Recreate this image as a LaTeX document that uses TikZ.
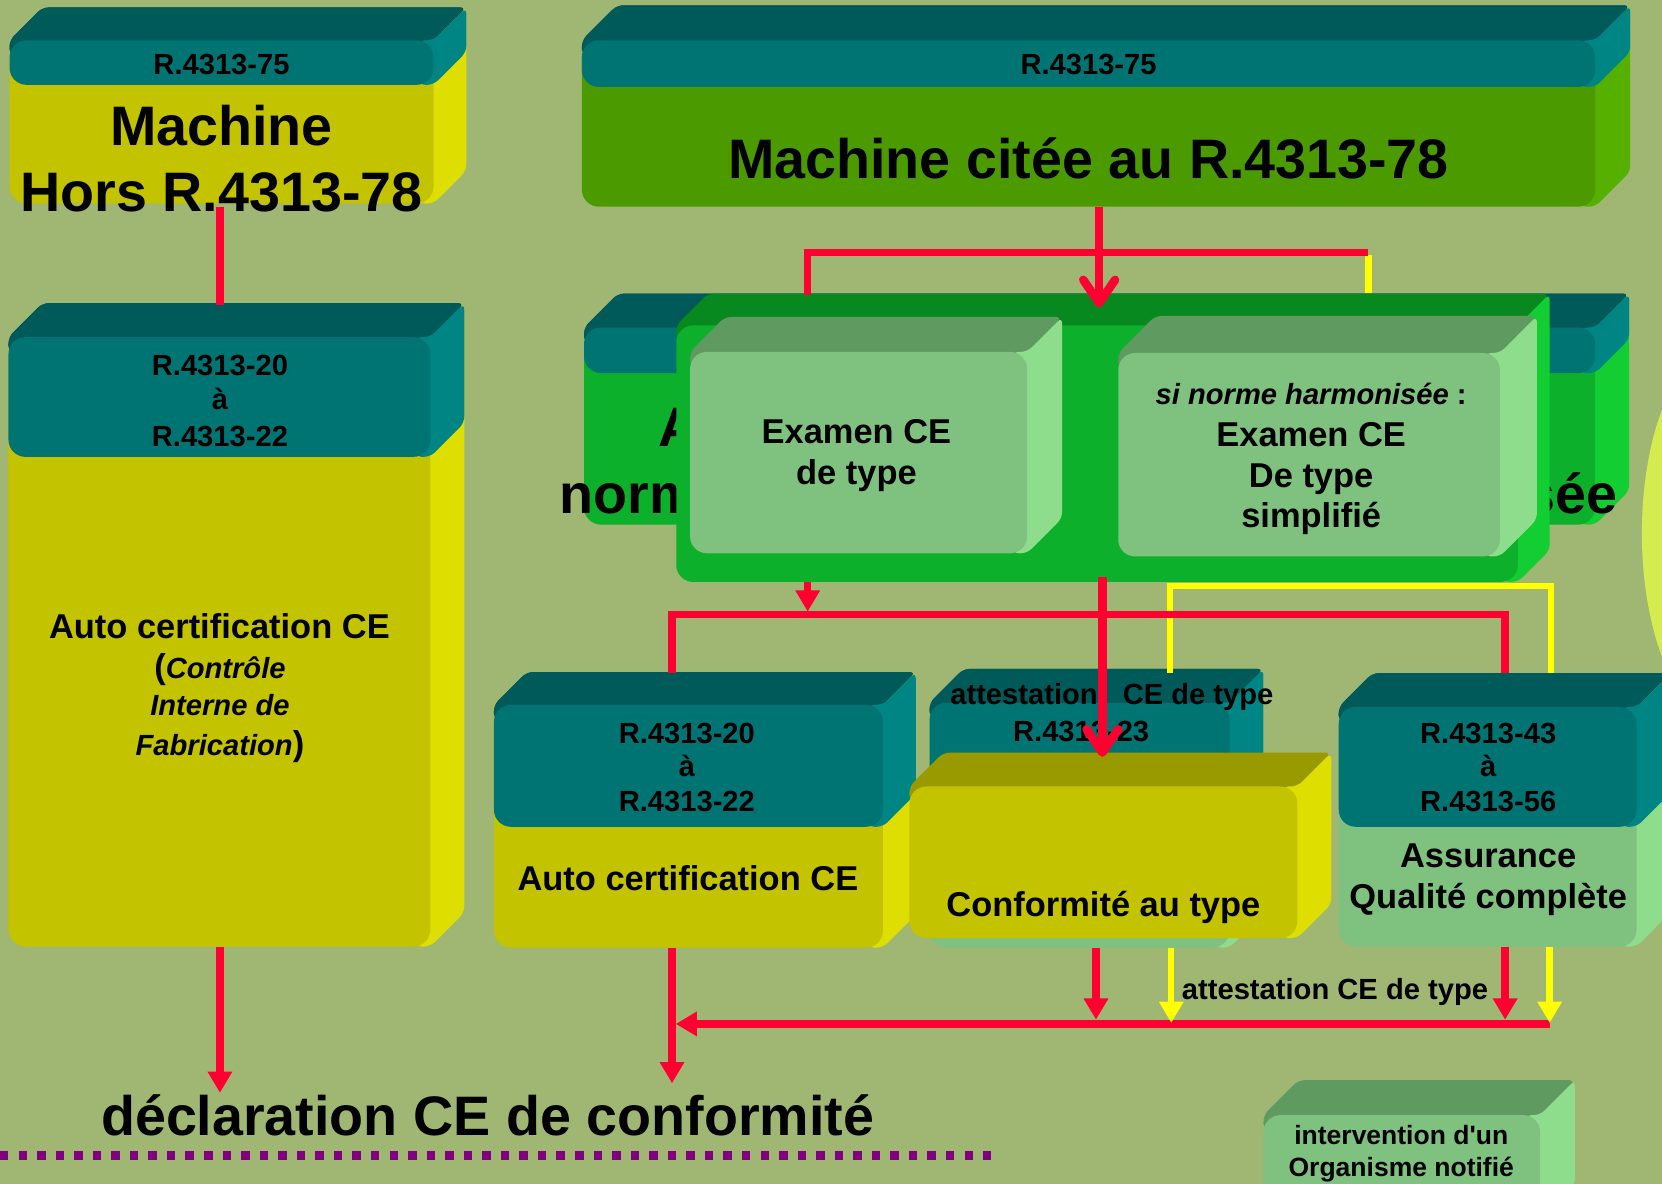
\documentclass[tikz,border=0pt]{standalone}
\usepackage{fontspec}
\setmainfont{Liberation Sans}[Ligatures=TeXOff]
\usetikzlibrary{arrows.meta}
\definecolor{bg}{HTML}{9FB773}
\definecolor{tealtop}{HTML}{005A5A}
\definecolor{tealfront}{HTML}{007373}
\definecolor{tealside}{HTML}{008585}
\definecolor{yfront}{HTML}{C3C300}
\definecolor{yside}{HTML}{DEDE00}
\definecolor{ytop}{HTML}{999900}
\definecolor{gfront}{HTML}{4B9B00}
\definecolor{gside}{HTML}{55B000}
\definecolor{bgfront}{HTML}{0CB02A}
\definecolor{bgtop}{HTML}{07891F}
\definecolor{bgside}{HTML}{12CE33}
\definecolor{lgfront}{HTML}{7FC17F}
\definecolor{lgtop}{HTML}{5F9B60}
\definecolor{lgside}{HTML}{8DDD8D}
\definecolor{lnred}{HTML}{FF0030}
\definecolor{lnyellow}{HTML}{FFFF00}
\definecolor{ellip}{HTML}{D4EC50}
\definecolor{dotpurple}{HTML}{800080}
% 3D box: x1, y1 (front top), x2, y2 (front bottom), depth, front, top, side
\newcommand\boxthree[8]{%
  \fill[#7, rounded corners=6] (#1,#2+14) -- (#1,#2) -- (#1+#5,#2-#5) -- (#3+#5,#2-#5) -- (#3,#2) -- (#3,#2+14) -- cycle;
  \fill[#8, rounded corners=6] (#3-14,#2) -- (#3,#2) -- (#3+#5,#2-#5) -- (#3+#5,#4-#5) -- (#3,#4) -- (#3-14,#4) -- cycle;
  \fill[#6, rounded corners=16] (#1,#2) rectangle (#3,#4);
}
\tikzset{
 txt/.style={anchor=base, inner sep=0pt, text=black},
 fbig/.style={txt, font=\fontsize{52.5}{60}\selectfont\bfseries},
 fmid/.style={txt, font=\fontsize{32.5}{38}\selectfont\bfseries},
 fref/.style={txt, font=\fontsize{27.5}{32}\selectfont\bfseries},
 fital/.style={txt, font=\fontsize{27.5}{32}\selectfont\bfseries\itshape},
 fsm/.style={txt, font=\fontsize{25}{30}\selectfont\bfseries},
 redln/.style={draw=lnred, line width=7pt},
 redthick/.style={draw=lnred, line width=8pt},
 yelln/.style={draw=lnyellow, line width=6pt},
 tri/.style={-{Triangle[length=20pt,width=22pt]}},
 barb/.style={-{Straight Barb[length=22pt,width=30pt,round]}},
}
\newcommand\bigparen[1]{{\fontsize{32.5}{38}\selectfont\upshape #1}}
\begin{document}
\begin{tikzpicture}[x=1pt,y=-1pt]
\useasboundingbox (0,0) rectangle (1568,1117);
\fill[bg] (0,0) rectangle (1568,1117);
\fill[ellip] (1629,503) ellipse [x radius=80pt, y radius=180pt];

% Box A
\boxthree{9}{38}{409}{192}{31}{yfront}{tealtop}{yside}
\boxthree{9}{38}{409}{80}{31}{tealfront}{tealtop}{tealside}
% Box B
\boxthree{8}{318}{406}{893}{32}{yfront}{tealtop}{yside}
\boxthree{8}{318}{406}{431}{32}{tealfront}{tealtop}{tealside}
% Box C
\boxthree{549}{38}{1505}{195}{33}{gfront}{tealtop}{gside}
\boxthree{549}{38}{1505}{82}{33}{tealfront}{tealtop}{tealside}
% Box D (behind)
\boxthree{551}{309}{1505}{495}{32}{bgfront}{tealtop}{bgside}
\boxthree{551}{309}{1505}{352}{32}{tealfront}{tealtop}{tealside}
\node[fbig, anchor=base west] (d-l1) at (621,421) {A};
\node[fbig, anchor=base west] (d-l2a) at (528,484) {norm};
\node[fbig, anchor=base east] (d-l2b) at (1526,484) {sée};
% Box E with two inner boxes
\boxthree{638}{307}{1432}{549}{30}{bgfront}{bgtop}{bgside}
\boxthree{651}{332}{969}{522}{33}{lgfront}{lgtop}{lgside}
\boxthree{1055}{333}{1415}{525}{35}{lgfront}{lgtop}{lgside}
% Box F
\boxthree{466}{665}{833}{894}{31}{yfront}{tealtop}{yside}
\boxthree{466}{665}{833}{780}{31}{tealfront}{tealtop}{tealside}
% Box G
\boxthree{877}{663}{1160}{894}{32}{lgfront}{tealtop}{lgside}
\boxthree{877}{663}{1160}{780}{32}{tealfront}{tealtop}{tealside}
\boxthree{858}{742}{1224}{885}{32}{yfront}{ytop}{yside}
% Box H
\boxthree{1263}{667}{1544}{893}{32}{lgfront}{tealtop}{lgside}
\boxthree{1263}{667}{1544}{780}{32}{tealfront}{tealtop}{tealside}
% Box I
\boxthree{1192}{1052}{1453}{1150}{33}{lgfront}{lgtop}{lgside}

% Texts
\node[fref] (a-ref) at (209,70.5) {R.4313-75};
\node[fbig] (a-l1) at (209,137) {Machine};
\node[fbig] (a-l2) at (209,200) {Hors R.4313-78};

\node[fref] (b-r1) at (207.5,354) {R.4313-20};
\node[fref] (b-r2) at (207.5,386) {à};
\node[fref] (b-r3) at (207.5,421) {R.4313-22};
\node[fmid] (b-t1) at (207,602) {Auto certification CE};
\node[fital] (b-t2) at (207.5,640) {\bigparen{(}Contrôle};
\node[fital] (b-t3) at (207.5,675) {Interne de};
\node[fital] (b-t4) at (207.5,713) {Fabrication\bigparen{)}};

\node[fref] (c-ref) at (1027,70.5) {R.4313-75};
\node[fbig] (c-t) at (1027,168) {Machine citée au R.4313-78};

\node[fmid] (e1-t1) at (808,418) {Examen CE};
\node[fmid] (e1-t2) at (808,457) {de type};
\node[fital] (e2-t0) at (1237,382) {si norme harmonisée\upshape\ :};
\node[fmid] (e2-t1) at (1237,421.5) {Examen CE};
\node[fmid] (e2-t2) at (1237,460) {De type};
\node[fmid] (e2-t3) at (1237,498) {simplifié};

\node[fref] (f-r1) at (648,701) {R.4313-20};
\node[fref] (f-r2) at (648,733) {à};
\node[fref] (f-r3) at (648,766) {R.4313-22};
\node[fmid] (f-t) at (649,840) {Auto certification CE};

\node[fref] (g-att) at (1049,665) {attestation\hspace{16pt} CE de type};
\node[fref] (g-ref) at (1020,700) {R.4313-23};
\node[fmid] (g-t) at (1041,865) {Conformité au type};

\node[fref] (h-r1) at (1404,701) {R.4313-43};
\node[fref] (h-r2) at (1404,733) {à};
\node[fref] (h-r3) at (1404,766) {R.4313-56};
\node[fmid] (h-t1) at (1404,818) {Assurance};
\node[fmid] (h-t2) at (1404,857) {Qualité complète};

\node[fsm] (i-t1) at (1322,1080) {intervention d'un};
\node[fsm] (i-t2) at (1322,1110) {Organisme notifié};

\node[fref] (att) at (1259.5,943) {attestation CE de type};
\node[fbig] (decl) at (460,1071) {déclaration CE de conformité};

% connection points
\coordinate (A-s) at (207.5,195);
\coordinate (B-n) at (207.5,288);
\coordinate (B-s) at (207.5,893);
\coordinate (declB) at (207.5,1031);
\coordinate (C-s) at (1037,195);
\coordinate (E-n) at (1037,290);
\coordinate (splitL) at (762,238);
\coordinate (splitR) at (1291,238);
\coordinate (DL-n) at (762,278);
\coordinate (DR-n) at (1291,276);
\coordinate (E-sl) at (762,549);
\coordinate (bus1L) at (634,580);
\coordinate (bus1R) at (1420,580);
\coordinate (bus1E) at (762,577);
\coordinate (F-n) at (634,635);
\coordinate (H-n) at (1420,635);
\coordinate (E-sc) at (1040,544);
\coordinate (G-tip) at (1040,714);
\coordinate (G-ny) at (1104,635);
\coordinate (yL) at (1104,553);
\coordinate (yR) at (1463,553);
\coordinate (H-ny) at (1463,635);
\coordinate (F-s) at (634,894);
\coordinate (declF) at (634,1022);
\coordinate (G-sr) at (1034,894);
\coordinate (G-sy) at (1105,894);
\coordinate (H-sr) at (1420,893);
\coordinate (H-sy) at (1462,893);
\coordinate (bus2R) at (1462,966);
\coordinate (bus2L) at (637.5,966);

% connectors
\draw[redln] (A-s) -- (B-n);
\draw[redln, tri] (B-s) -- (declB);
\draw[yelln] (splitR) ++(0,3) -- (DR-n);
\draw[redln] (DL-n) -- (splitL) -- (splitR);
\draw[redthick, barb] (C-s) -- (E-n);
\draw[yelln] (G-ny) -- (yL) -- (yR) -- (H-ny);
\draw[redln, tri] (E-sl) -- (bus1E);
\draw[redln] (F-n) -- (bus1L) -- (bus1R) -- (H-n);
\draw[redthick, barb] (E-sc) -- (G-tip);
\draw[redln, tri] (F-s) -- (declF);
\draw[redln, tri] (bus2R) -- (bus2L);
\draw[redln, tri] (G-sr) -- (1034,962);
\draw[yelln, tri] (G-sy) -- (1105,965);
\draw[redln, tri] (H-sr) -- (1420,962);
\draw[yelln, tri] (H-sy) -- (1462,965);

\draw[dotpurple, line width=9pt, dash pattern=on 8pt off 9.5pt] (0,1090) -- (935,1090);
\end{tikzpicture}
\end{document}
